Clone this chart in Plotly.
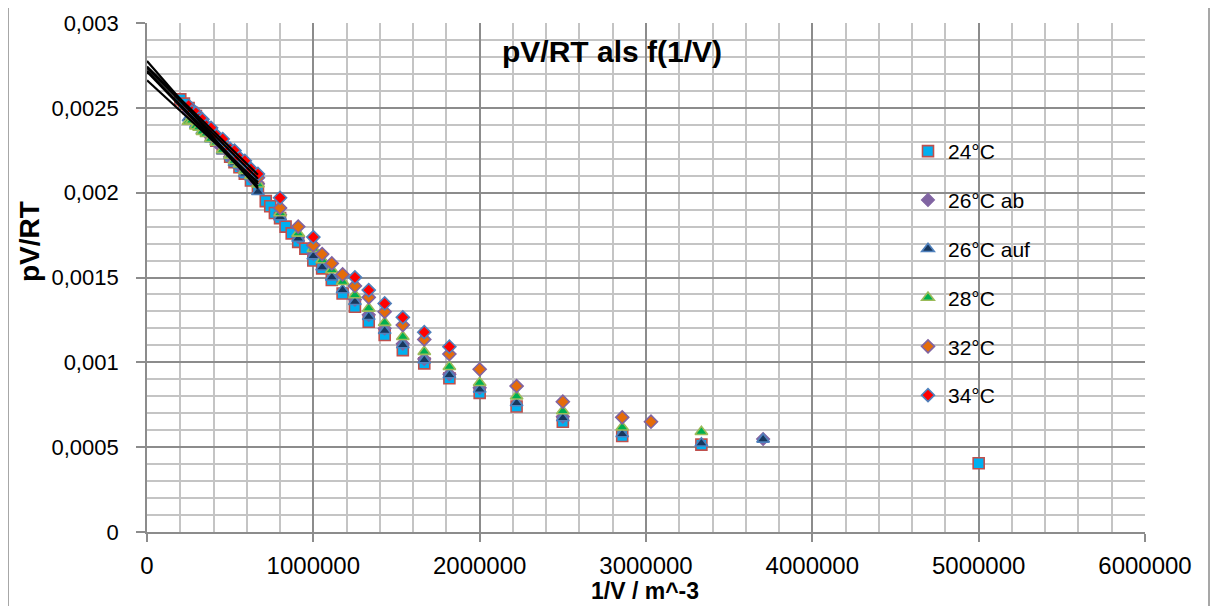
import numpy as np
import plotly.graph_objects as go

# ---------------- data ----------------
x_24 = [200000, 222000, 250000, 270000, 294000, 313000, 333000, 357000, 385000, 417000,
        455000, 500000, 526000, 556000, 588000, 625000, 667000,
        714000, 741000, 769000, 800000, 833000, 870000, 909000, 952000, 1000000,
        1053000, 1111000, 1176000, 1250000, 1333000, 1429000, 1538000, 1667000, 1818000,
        2000000, 2222000, 2500000, 2857000, 3333000, 5000000]
y_24 = [0.002550, 0.002525, 0.002498, 0.002470, 0.002452, 0.002420, 0.002402, 0.002372, 0.002341, 0.002306,
        0.002262, 0.002212, 0.002180, 0.002150, 0.002112, 0.002072, 0.002028,
        0.001950, 0.001920, 0.001880, 0.001850, 0.001800, 0.001760, 0.001710, 0.001670, 0.001600,
        0.001554, 0.001485, 0.001406, 0.001328, 0.001239, 0.001161, 0.001072, 0.000994, 0.000906,
        0.000820, 0.000740, 0.000650, 0.000566, 0.000515, 0.000405]

x_26ab = [250000, 270000, 294000, 313000, 333000, 357000, 385000, 417000, 455000, 500000,
          526000, 556000, 588000, 625000, 667000,
          800000, 909000, 1000000, 1250000, 1333000, 1429000, 1538000, 1667000, 1818000,
          2000000, 2500000, 3704000]
y_26ab = [0.002475, 0.002440, 0.002430, 0.002398, 0.002392, 0.002355, 0.002340, 0.002296, 0.002270, 0.002212,
          0.002198, 0.002155, 0.002138, 0.002090, 0.002052,
          0.001870, 0.001740, 0.001640, 0.001370, 0.001280, 0.001200, 0.001110, 0.001020, 0.000930,
          0.000850, 0.000680, 0.000548]

x_26auf = [250000, 270000, 294000, 313000, 333000, 357000, 385000, 417000, 455000, 500000,
           526000, 556000, 588000, 625000, 667000,
           800000, 909000, 1000000, 1053000, 1111000, 1176000, 1250000, 1333000, 1429000, 1538000,
           1667000, 1818000, 2000000, 2222000, 2500000, 2857000, 3333000, 3704000]
y_26auf = [0.002440, 0.002450, 0.002400, 0.002408, 0.002365, 0.002360, 0.002316, 0.002300, 0.002246, 0.002216,
           0.002176, 0.002160, 0.002112, 0.002092, 0.002005,
           0.001856, 0.001730, 0.001626, 0.001560, 0.001501, 0.001426, 0.001357, 0.001269, 0.001186, 0.001102,
           0.001013, 0.000925, 0.000840, 0.000760, 0.000672, 0.000578, 0.000523, 0.000546]

x_28 = [250000, 270000, 294000, 313000, 333000, 357000, 385000, 417000, 455000, 500000,
        526000, 556000, 588000, 625000, 667000,
        800000, 909000, 1000000, 1053000, 1111000, 1176000, 1250000, 1333000, 1429000, 1538000,
        1667000, 1818000, 2000000, 2222000, 2500000, 2857000, 3333000]
y_28 = [0.002420, 0.002425, 0.002392, 0.002385, 0.002360, 0.002348, 0.002318, 0.002296, 0.002252, 0.002220,
        0.002188, 0.002168, 0.002130, 0.002100, 0.002050,
        0.001880, 0.001760, 0.001670, 0.001603, 0.001544, 0.001475, 0.001397, 0.001318, 0.001234, 0.001151,
        0.001063, 0.000974, 0.000880, 0.000800, 0.000713, 0.000617, 0.000591]

x_32 = [250000, 270000, 294000, 313000, 333000, 357000, 385000, 417000, 455000, 500000,
        526000, 556000, 588000, 625000, 667000,
        800000, 909000, 1000000, 1053000, 1111000, 1176000, 1250000, 1333000, 1429000, 1538000,
        1667000, 1818000, 2000000, 2222000, 2500000, 2857000, 3030000]
y_32 = [0.002505, 0.002460, 0.002455, 0.002418, 0.002415, 0.002376, 0.002364, 0.002318, 0.002296, 0.002238,
        0.002228, 0.002185, 0.002166, 0.002118, 0.002088,
        0.001910, 0.001800, 0.001690, 0.001638, 0.001583, 0.001518, 0.001450, 0.001383, 0.001298, 0.001220,
        0.001135, 0.001049, 0.000959, 0.000860, 0.000768, 0.000676, 0.000650]

x_34 = [250000, 270000, 294000, 313000, 333000, 357000, 385000, 417000, 455000, 500000,
        526000, 556000, 588000, 625000, 667000,
        800000, 1000000, 1250000, 1333000, 1429000, 1538000, 1667000, 1818000]
y_34 = [0.002512, 0.002478, 0.002470, 0.002436, 0.002432, 0.002395, 0.002382, 0.002338, 0.002316, 0.002258,
        0.002248, 0.002206, 0.002188, 0.002140, 0.002110,
        0.001970, 0.001738, 0.001501, 0.001426, 0.001347, 0.001265, 0.001178, 0.001092]

names = ["24°C", "26°C ab", "26°C auf", "28°C", "32°C", "34°C"]
fit_limit = 700000  # linear trendlines are fitted over the low-density part only

x_ticks = [0, 1000000, 2000000, 3000000, 4000000, 5000000, 6000000]
x_ticktext = ["0", "1000000", "2000000", "3000000", "4000000", "5000000", "6000000"]
y_ticks = [0, 0.0005, 0.001, 0.0015, 0.002, 0.0025, 0.003]
y_ticktext = ["0", "0,0005", "0,001", "0,0015", "0,002", "0,0025", "0,003"]

# ---------------- styles ----------------
series = [
    (x_24, y_24, dict(symbol="square", size=11, color="#00B0F0", line=dict(color="#C0504D", width=1.6))),
    (x_26ab, y_26ab, dict(symbol="diamond", size=10, color="#8064A2", line=dict(color="#8064A2", width=1.2))),
    (x_26auf, y_26auf, dict(symbol="triangle-up", size=11, color="#17375E", line=dict(color="#4F81BD", width=1.6))),
    (x_28, y_28, dict(symbol="triangle-up", size=11, color="#00B050", line=dict(color="#9BBB59", width=1.6))),
    (x_32, y_32, dict(symbol="diamond", size=10, color="#E46C0A", line=dict(color="#8064A2", width=1.6))),
    (x_34, y_34, dict(symbol="diamond", size=10, color="#FF0000", line=dict(color="#4F81BD", width=1.6))),
]

FONT = "Liberation Sans, Arial, sans-serif"

fig = go.Figure()
for i, (xs, ys, mk) in enumerate(series):
    fig.add_trace(go.Scatter(x=xs, y=ys, mode="markers", name=names[i], marker=mk,
                             legendgroup=names[i]))

# linear trendlines (least squares on the low-density points), drawn from 1/V = 0
for i, (xs, ys, mk) in enumerate(series):
    xa = np.array(xs, dtype=float)
    ya = np.array(ys, dtype=float)
    m = xa < fit_limit
    k, d = np.polyfit(xa[m], ya[m], 1)
    xl = np.array([0.0, xa[m].max()])
    fig.add_trace(go.Scatter(x=xl, y=k * xl + d, mode="lines", showlegend=False,
                             line=dict(color="black", width=2.2), hoverinfo="skip"))

# page body has an 8px margin: all positions below are screen positions minus 8
OFF = 8
W, H = 1210, 598
L, T = 147 - OFF, 23 - OFF
Rx, By = 1145 - OFF, 532 - OFF
R, B = W - Rx, H - By
pw, ph = Rx - L, By - T


def px(xs):
    return (xs - OFF - L) / pw


def py(ys):
    return (By - (ys - OFF)) / ph


fig.update_layout(
    width=W, height=H,
    margin=dict(l=L, r=R, t=T, b=B, autoexpand=False),
    paper_bgcolor="white", plot_bgcolor="white",
    font=dict(family=FONT, size=21, color="black"),
    showlegend=True,
    legend=dict(x=px(908), y=py(131), xanchor="left", yanchor="top",
                bgcolor="rgba(0,0,0,0)", font=dict(family=FONT, size=21),
                tracegroupgap=18.5, itemwidth=30),
    annotations=[
        dict(text="<b>pV/RT als f(1/V)</b>", x=px(612), y=py(51),
             xref="paper", yref="paper", showarrow=False, xanchor="center", yanchor="middle",
             font=dict(family=FONT, size=30)),
        dict(text="<b>pV/RT</b>", x=px(30), y=py(242), textangle=-90,
             xref="paper", yref="paper", showarrow=False, xanchor="center", yanchor="middle",
             font=dict(family=FONT, size=28)),
        dict(text="<b>1/V / m^-3</b>", x=px(645), y=py(591),
             xref="paper", yref="paper", showarrow=False, xanchor="center", yanchor="middle",
             font=dict(family=FONT, size=23)),
    ],
    shapes=[dict(type="rect", xref="paper", yref="paper",
                 x0=px(8), x1=px(1209), y0=py(640), y1=py(7),
                 line=dict(color="#8A8A8A", width=1.5), fillcolor="rgba(0,0,0,0)", layer="below")],
)

fig.update_xaxes(range=[0, 6000000], tickvals=x_ticks, ticktext=x_ticktext, automargin=False,
                 showgrid=True, gridcolor="#8C8C8C", gridwidth=1.8,
                 minor=dict(dtick=200000, showgrid=True, gridcolor="#C4C4C4", gridwidth=1.8, ticks=""),
                 showline=True, linecolor="#8C8C8C", linewidth=1.8,
                 ticks="outside", ticklen=8, tickcolor="#8C8C8C", tickwidth=1.5,
                 tickfont=dict(family=FONT, size=24), ticklabelstandoff=3, zeroline=False)
fig.update_yaxes(range=[0, 0.003], tickvals=y_ticks, ticktext=y_ticktext, automargin=False,
                 showgrid=True, gridcolor="#8C8C8C", gridwidth=1.8,
                 minor=dict(dtick=0.0001, showgrid=True, gridcolor="#C4C4C4", gridwidth=1.8, ticks=""),
                 showline=True, linecolor="#8C8C8C", linewidth=1.8,
                 ticks="outside", ticklen=9, tickcolor="#8C8C8C", tickwidth=1.5,
                 tickfont=dict(family=FONT, size=22), ticklabelstandoff=13, zeroline=False)

fig.write_html("out.html")
